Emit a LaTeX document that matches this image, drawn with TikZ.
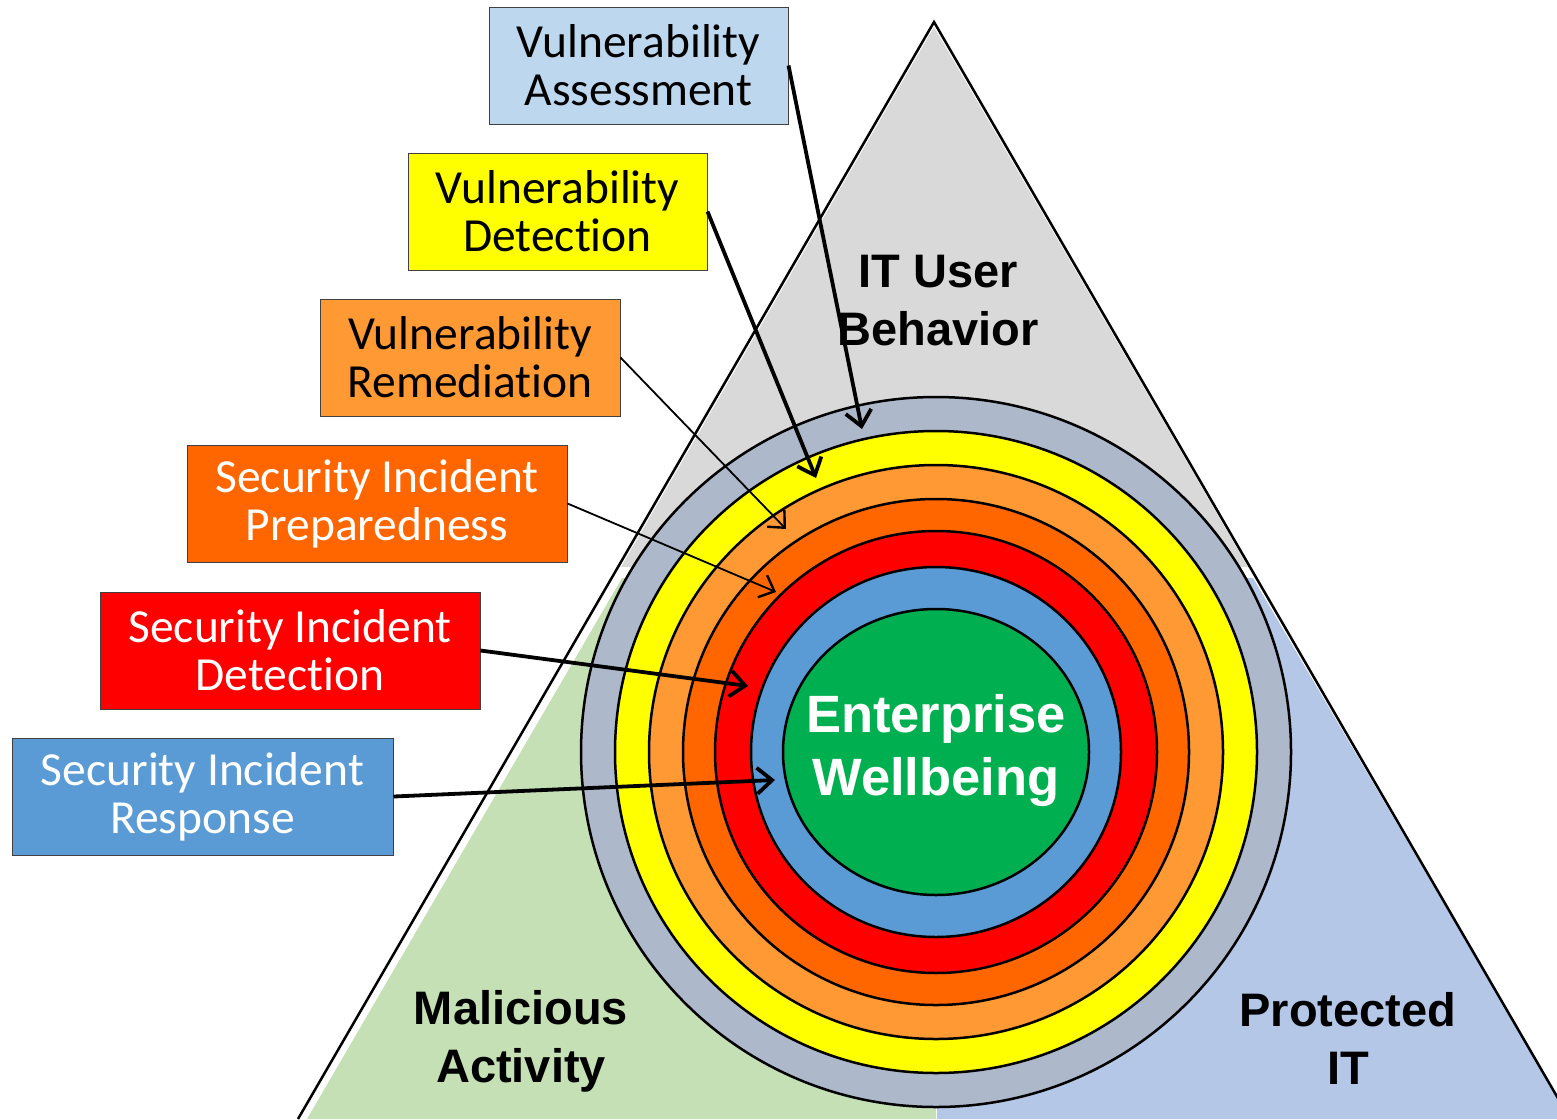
\documentclass[tikz,border=0pt]{standalone}
\usepackage{fontspec}
\setmainfont{Carlito}[Ligatures=NoCommon]
\newfontfamily\headfont{Liberation Sans}
\usetikzlibrary{arrows.meta}

\definecolor{zoneGray}{HTML}{D9D9D9}
\definecolor{zoneGreen}{HTML}{C5E0B4}
\definecolor{zoneBlue}{HTML}{B4C7E7}
\definecolor{ringGray}{HTML}{ADB9CA}
\definecolor{ringYellow}{HTML}{FFFF00}
\definecolor{ringLtOrange}{HTML}{FF9933}
\definecolor{ringDkOrange}{HTML}{FF6600}
\definecolor{ringRed}{HTML}{FF0000}
\definecolor{ringBlue}{HTML}{5B9BD5}
\definecolor{coreGreen}{HTML}{00B050}
\definecolor{boxBlue}{HTML}{BDD7EE}
\definecolor{boxEdge}{HTML}{404040}

\tikzset{
  labelbox/.style={draw=boxEdge, line width=1pt, inner sep=0pt,
    minimum height=117pt, align=center,
    font=\fontsize{47.5}{48}\selectfont},
  ring/.style={draw=black, line width=2.5pt},
  zonetext/.style={align=center, font=\headfont\bfseries\fontsize{47}{58}\selectfont},
  heavyarrow/.style={line width=3.8pt, -{Straight Barb[length=15pt,width=26pt,line width=3.8pt]}},
  lightarrow/.style={line width=1.8pt, -{Straight Barb[length=13pt,width=24pt,line width=2.4pt]}},
}

\begin{document}
\begin{tikzpicture}[x=1pt,y=-1pt]
\useasboundingbox (0,0) rectangle (1557,1119);
\begin{scope}
\clip (0,0) rectangle (1557,1119);

% three zones of the triangle
\fill[zoneGray] (934,27) -- (621,567) -- (1248,567) -- cycle;
\fill[zoneGreen] (622,578) -- (936,578) -- (936,1119) -- (307,1119) -- cycle;
\fill[zoneBlue] (937,578) -- (1253,578) -- (1570,1119) -- (937,1119) -- cycle;

% triangle outline
\draw[line width=2.5pt, line join=miter] (298,1119) -- (934,22) -- (1570,1119);

% concentric rings, outermost first
\coordinate (ctr) at (936,752);
\foreach \r/\c in {355/ringGray, 321/ringYellow, 287/ringLtOrange,
                   253/ringDkOrange, 221/ringRed, 185/ringBlue}{
  \filldraw[ring, fill=\c] (ctr) circle[radius=\r pt];
}
\filldraw[ring, fill=coreGreen] (ctr) ellipse[x radius=153pt, y radius=143pt];
\end{scope}

% zone labels
\node[zonetext] (itu) at (938,301) {IT User\\Behavior};
\node[zonetext] (mal) at (521,1041) {Malicious\\Activity};
\node[zonetext] (pit) at (1348,1038) {Protected\\IT};
\node[align=center, text=white,
  font=\headfont\bfseries\fontsize{52.5}{63}\selectfont] (ew) at (936,751) {Enterprise\\Wellbeing};

% capability boxes
\node[labelbox, fill=boxBlue, minimum width=299pt] (va) at (638.5,65.5) {Vulnerability\\Assessment};
\node[labelbox, fill=ringYellow, minimum width=299pt] (vd) at (557.5,211.5) {Vulnerability\\Detection};
\node[labelbox, fill=ringLtOrange, minimum width=300pt] (vr) at (470,357.5) {Vulnerability\\Remediation};
\node[labelbox, fill=ringDkOrange, text=white, minimum width=380pt] (sip) at (377,503.5) {Security Incident\\Preparedness};
\node[labelbox, fill=ringRed, text=white, minimum width=380pt] (sid) at (290,650.5) {Security Incident\\Detection};
\node[labelbox, fill=ringBlue, text=white, minimum width=381pt] (sir) at (202.5,796.5) {Security Incident\\Response};

% arrow targets on the rings
\coordinate (tA) at (862,429);
\coordinate (tB) at (816,478);
\coordinate (tC) at (786,529);
\coordinate (tD) at (776,592);
\coordinate (tE) at (748,686);
\coordinate (tF) at (775,780);

\draw[heavyarrow] (va.east) -- (tA);
\draw[heavyarrow] (vd.east) -- (tB);
\draw[lightarrow] (vr.east) -- (tC);
\draw[lightarrow] (sip.east) -- (tD);
\draw[heavyarrow] (sid.east) -- (tE);
\draw[heavyarrow] (sir.east) -- (tF);
\end{tikzpicture}
\end{document}
